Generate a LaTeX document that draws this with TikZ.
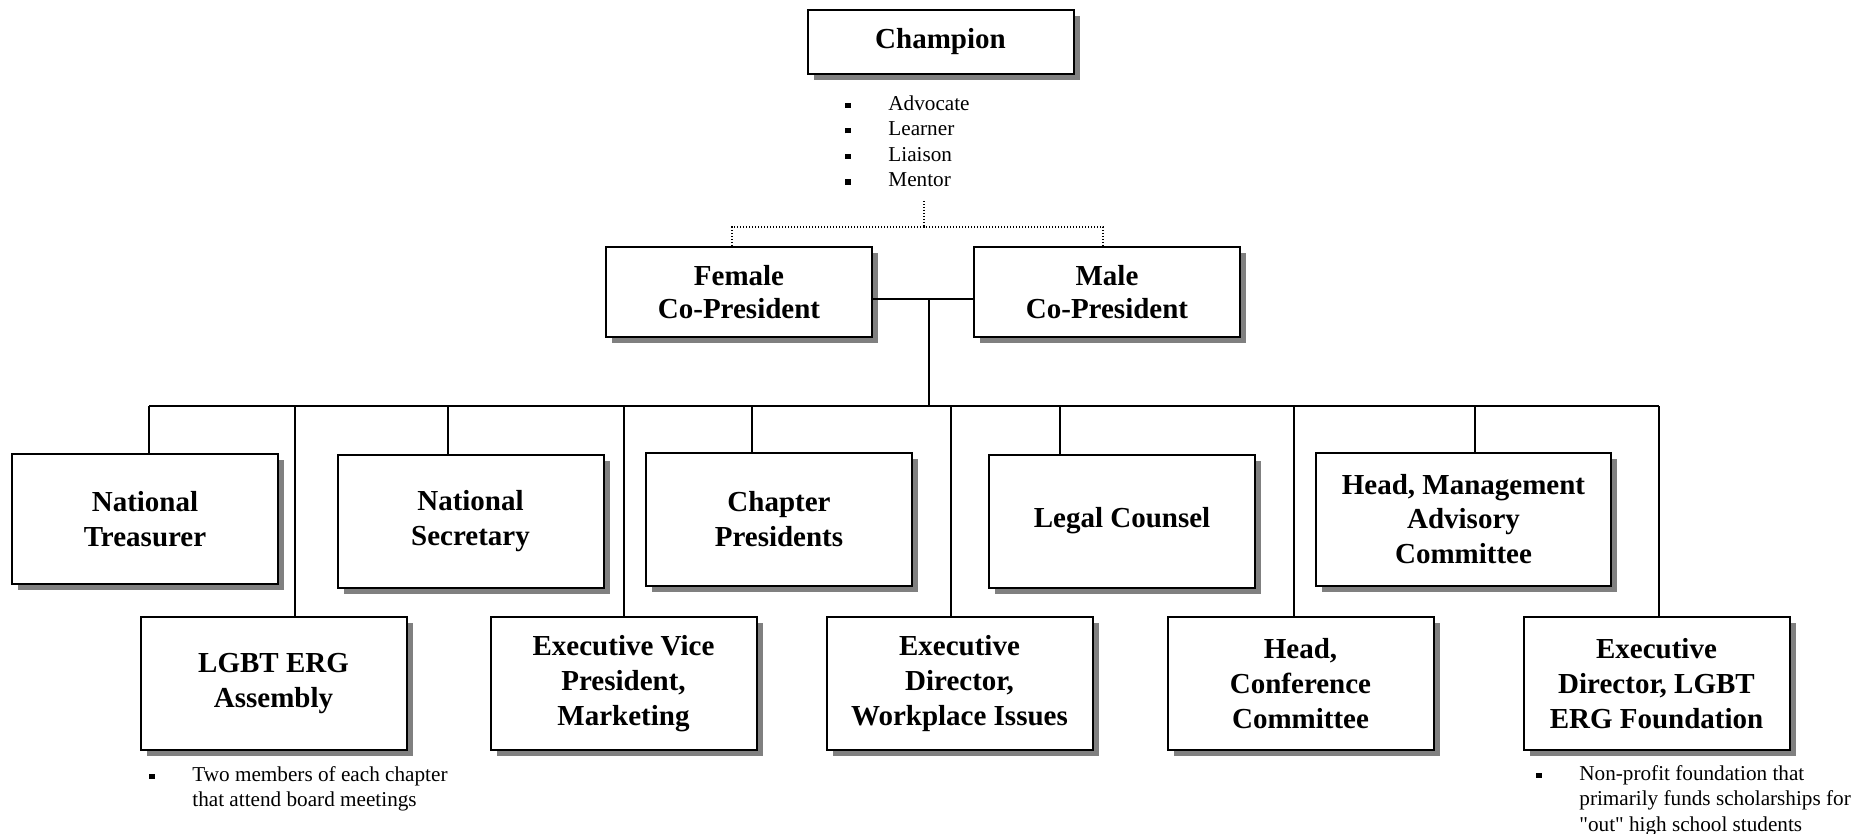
\documentclass[tikz,border=0pt]{standalone}
\usepackage{fontspec}
\setmainfont{Liberation Serif}[Ligatures=TeXOff]
\usepackage{tikz}
\usetikzlibrary{shadows}

\tikzset{
  post/.style={rectangle, draw, line width=1pt, fill=white, align=center, inner sep=2pt,
    minimum width=133pt, minimum height=66.5pt,
    font=\fontsize{14.5}{17.4}\selectfont\bfseries,
    drop shadow={shadow xshift=3pt, shadow yshift=-3pt, fill=black!50, opacity=1}},
  notes/.style={align=left, inner sep=0pt, anchor=north west,
    font=\fontsize{10.6}{12.8}\selectfont},
  orgline/.style={line width=0.9pt},
  dotline/.style={line width=0.6pt, dash pattern=on 0.6pt off 0.9pt},
}
\newcommand{\sqitem}{\makebox[21.5pt][l]{\rule[1.2pt]{2.6pt}{2.6pt}}}
\newcommand{\sqindent}{\hspace*{21.5pt}}

\begin{document}
\begin{tikzpicture}[x=0.5pt, y=-0.5pt]
        \useasboundingbox (0,0) rectangle (1874,834);

        \node[post, minimum height=32pt] (champ) at (940.5, 42) {Champion};
        \node[notes] (champnotes) at (845, 95)
            {\sqitem Advocate\\ \sqitem Learner\\ \sqitem Liaison\\ \sqitem Mentor};

        \node[post, minimum height=45pt] (fcp) at (739, 292) {\raisebox{-1pt}{Female}\\Co-President};
        \node[post, minimum height=45pt] (mcp) at (1107, 292) {\raisebox{-1pt}{Male}\\Co-President};

        % first row
        \node[post, minimum height=65pt] (treas) at (145, 519) {National\\Treasurer};
        \node[post] (nsec) at (470.5, 521) {National\\Secretary};
        \node[post] (chpres) at (779, 519) {Chapter\\Presidents};
        \node[post] (legal) at (1122, 521) {Legal Counsel};
        \node[post, minimum width=147.5pt] (mgmt) at (1463.5, 519) {Head, Management\\Advisory\\Committee};

        % second row
        \node[post] (lgbt) at (273.5, 683.5) {LGBT ERG\\Assembly};
        \node[post] (evp) at (623.5, 683.5) {Executive Vice\\President,\\Marketing};
        \node[post] (edwork) at (959.5, 683.5) {Executive\\Director,\\Workplace Issues};
        \node[post] (conf) at (1300.5, 683.5) {Head,\\Conference\\Committee};
        \node[post] (edfound) at (1656.5, 683.5) {Executive\\Director, LGBT\\ERG Foundation};

        \node[notes] (lgbtnotes) at (149, 766)
            {\sqitem Two members of each chapter\\ \sqindent that attend board meetings};
        \node[notes] (foundnotes) at (1536, 765)
            {\sqitem Non-profit foundation that\\ \sqindent primarily funds scholarships for\\ \sqindent "out" high school students};

        \coordinate (dottop) at (924, 201);
        \coordinate (dotbus) at (924, 227);
        \coordinate (cpjoin) at (929, 299);
        \coordinate (busjoin) at (929, 406);
        \coordinate (busl) at (149, 406);
        \coordinate (busr) at (1659, 406);

        \draw[dotline] (dottop) -- (dotbus)
              ([xshift=-3.5pt]fcp.north) |- (dotbus) -| ([xshift=-2pt]mcp.north);

        \draw[orgline] ([yshift=-3.5pt]fcp.east) -- ([yshift=-3.5pt]mcp.west)
              (cpjoin) -- (busjoin)
              (busl) -- (busr)
              (busl) -- (treas.north -| busl)
              (295, 406) -- (lgbt.north -| 295, 0)
              (448, 406) -- (nsec.north -| 448, 0)
              (624, 406) -- (evp.north -| 624, 0)
              (752, 406) -- (chpres.north -| 752, 0)
              (951, 406) -- (edwork.north -| 951, 0)
              (1060, 406) -- (legal.north -| 1060, 0)
              (1294, 406) -- (conf.north -| 1294, 0)
              (1475, 406) -- (mgmt.north -| 1475, 0)
              (busr) -- (edfound.north -| busr);
    \end{tikzpicture}
\end{document}
